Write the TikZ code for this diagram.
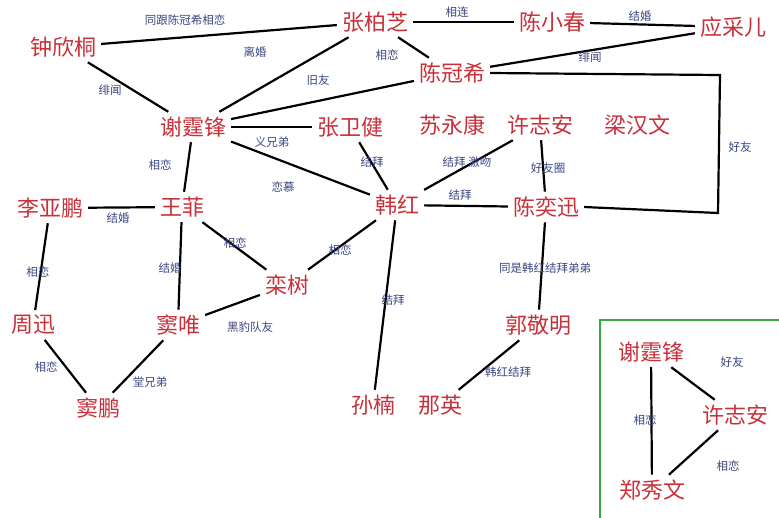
\documentclass[tikz,border=0pt]{standalone}
\usepackage{fontspec}
\setmainfont{Noto Sans CJK SC}
\usetikzlibrary{positioning}
\definecolor{namered}{HTML}{C8303A}
\definecolor{linkblue}{HTML}{3A4580}
\definecolor{boxgreen}{HTML}{3AAA48}

\begin{document}
\begin{tikzpicture}[
        x=1pt, y=-1pt,
        person/.style={text=namered, font=\fontsize{22}{22}\selectfont, inner sep=4pt},
        rel/.style={text=linkblue, font=\fontsize{11.5}{11.5}\selectfont, inner sep=1pt},
        every path/.style={line width=2.2pt}
    ]
    \useasboundingbox (0,0) rectangle (779,517);

    % People
    \node[person] (zbz) at (375,22) {张柏芝};
    \node[person] (cxc) at (552,22) {陈小春};
    \node[person] (ycr) at (733,27) {应采儿};
    \node[person] (zxt) at (63,47) {钟欣桐};
    \node[person] (cgx) at (452,73) {陈冠希};
    \node[person] (xtf) at (193,127) {谢霆锋};
    \node[person] (zwj) at (350,127) {张卫健};
    \node[person] (syk) at (452,125) {苏永康};
    \node[person] (xza) at (540,125) {许志安};
    \node[person] (lhw) at (637,125) {梁汉文};
    \node[person] (lyp) at (50,208) {李亚鹏};
    \node[person] (wf) at (182,207) {王菲};
    \node[person] (hh) at (397,205) {韩红};
    \node[person] (cyx) at (546,207) {陈奕迅};
    \node[person] (ls) at (287,285) {栾树};
    \node[person] (zx) at (33,325) {周迅};
    \node[person] (dw) at (178,325) {窦唯};
    \node[person] (gjm) at (538,325) {郭敬明};
    \node[person] (dp) at (98,408) {窦鹏};
    \node[person] (sn) at (373,405) {孙楠};
    \node[person] (ny) at (440,405) {那英};
    \coordinate (c1) at (720,75);
    \coordinate (c2) at (718,213);

    % Edges
    \draw (zxt) -- (zbz);
    \draw (zbz) -- (xtf);
    \draw (zbz) -- (cxc);
    \draw (cxc) -- (ycr);
    \draw (zbz) -- (cgx);
    \draw (cgx) -- (ycr);
    \draw (xtf) -- (cgx);
    \draw (zxt) -- (xtf);
    \draw (xtf) -- (zwj);
    \draw (xtf) -- (wf);
    \draw (xtf) -- (hh);
    \draw (zwj) -- (hh);
    \draw (xza) -- (hh);
    \draw (cgx.east) -- (c1) -- (c2) -- (cyx.east);
    \draw (xza) -- (cyx);
    \draw (hh) -- (cyx);
    \draw (lyp) -- (wf);
    \draw (wf) -- (ls);
    \draw (hh) -- (ls);
    \draw (wf) -- (dw);
    \draw (lyp) -- (zx);
    \draw (hh) -- (sn);
    \draw (cyx) -- (gjm);
    \draw (ls) -- (dw);
    \draw (zx) -- (dp);
    \draw (dw) -- (dp);
    \draw (gjm) -- (ny);

    % Labels
    \node[rel] (l1) at (185,20) {同跟陈冠希相恋};
    \node[rel] (l2) at (255,52) {离婚};
    \node[rel] (l3) at (457,12) {相连};
    \node[rel] (l4) at (640,16) {结婚};
    \node[rel] (l5) at (387,55) {相恋};
    \node[rel] (l6) at (590,57) {绯闻};
    \node[rel] (l7) at (318,80) {旧友};
    \node[rel] (l8) at (110,90) {绯闻};
    \node[rel] (l9) at (272,142) {义兄弟};
    \node[rel] (l10) at (160,165) {相恋};
    \node[rel] (l11) at (283,187) {恋慕};
    \node[rel] (l12) at (372,162) {结拜};
    \node[rel] (l13) at (467,162) {结拜 激吻};
    \node[rel] (l14) at (740,147) {好友};
    \node[rel] (l15) at (548,168) {好友圈};
    \node[rel] (l16) at (460,195) {结拜};
    \node[rel] (l17) at (118,218) {结婚};
    \node[rel] (l18) at (235,243) {相恋};
    \node[rel] (l19) at (340,250) {相恋};
    \node[rel] (l20) at (170,268) {结婚};
    \node[rel] (l21) at (38,272) {相恋};
    \node[rel] (l22) at (393,300) {结拜};
    \node[rel] (l23) at (545,268) {同是韩红结拜弟弟};
    \node[rel] (l24) at (250,327) {黑豹队友};
    \node[rel] (l25) at (46,367) {相恋};
    \node[rel] (l26) at (150,382) {堂兄弟};
    \node[rel] (l27) at (508,372) {韩红结拜};

    % Inset
    \draw[boxgreen, line width=1.5pt] (600,320) rectangle (781,519);
    \node[person] (xtf2) at (651,352) {谢霆锋};
    \node[person] (xza2) at (735,415) {许志安};
    \node[person] (zxw) at (652,490) {郑秀文};
    \draw (xtf2) -- (xza2);
    \draw (xtf2) -- (zxw);
    \draw (xza2) -- (zxw);
    \node[rel] (l28) at (732,362) {好友};
    \node[rel] (l29) at (645,420) {相恋};
    \node[rel] (l30) at (728,466) {相恋};
\end{tikzpicture}
\end{document}
